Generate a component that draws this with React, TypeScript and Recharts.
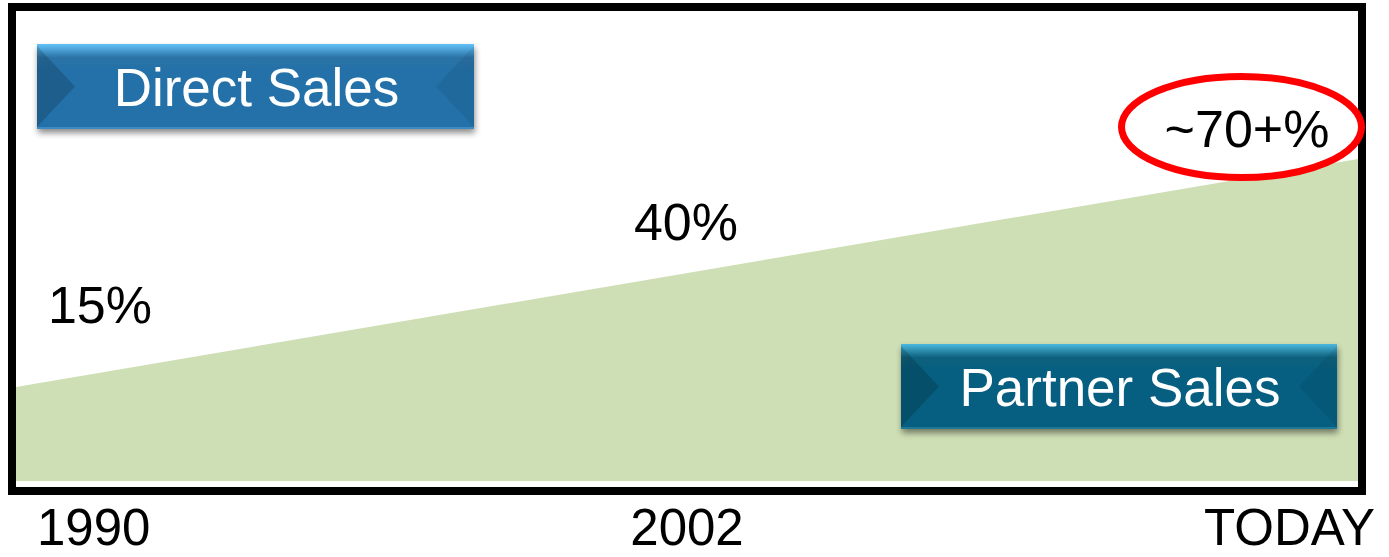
import { AreaChart, Area, XAxis, YAxis } from 'recharts'

// x positions: 0 = 1990, 1 = 2002, 2 = today
const categories = ['1990', '2002', 'TODAY']
const shareLabels = ['15%', '40%', '~70+%']
// green wedge: height of the partner area at the two ends (% of the box)
const areaX = [0, 2]
const areaY = [20, 68.5]

const data = areaX.map((x, i) => ({ x, partner: areaY[i] }))

const FONT = '"Liberation Sans", Arial, sans-serif'

function XTick(props: any) {
  const { x, y, payload } = props
  const i = payload.value as number
  const anchor = i === 0 ? 'start' : i === 2 ? 'end' : 'middle'
  const dx = i === 0 ? 21 : i === 2 ? 17 : 0
  return (
    <text x={x + dx} y={y + 64} textAnchor={anchor} fontSize={51} fontFamily={FONT} fill="#000">
      {categories[i]}
    </text>
  )
}

function BevelButton({ x, y, w, h, label, id, top, main, bottom }: any) {
  const b = 38
  return (
    <g>
      <defs>
        <linearGradient id={id} x1="0" y1="0" x2="0" y2="1">
          <stop offset="0%" stopColor={top} />
          <stop offset="16%" stopColor={main} stopOpacity={0.92} />
          <stop offset="30%" stopColor={main} />
          <stop offset="100%" stopColor={main} />
        </linearGradient>
      </defs>
      <rect x={x} y={y} width={w} height={h} fill="#000" opacity={0.45} filter="url(#btnShadow)" />
      <rect x={x} y={y} width={w} height={h} fill={`url(#${id})`} />
      <polygon points={`${x},${y + 2} ${x + b},${y + h / 2} ${x},${y + h - 2}`} fill="#000" opacity={0.16} />
      <polygon points={`${x + w},${y + 2} ${x + w - b},${y + h / 2} ${x + w},${y + h - 2}`} fill="#000" opacity={0.07} />
      <line x1={x} y1={y + h - 1} x2={x + w} y2={y + h - 1} stroke={bottom} strokeWidth={2} />
      <text x={x + w / 2 + 1} y={y + h / 2 + 19} textAnchor="middle" fontSize={53} fontFamily={FONT} fill="#fff">
        {label}
      </text>
    </g>
  )
}

function Overlay() {
  return (
    <svg width={1389} height={557} style={{ position: 'absolute', left: 0, top: 0, pointerEvents: 'none' }}>
      <defs>
        <filter id="btnShadow" x="-10%" y="-20%" width="120%" height="150%">
          <feGaussianBlur stdDeviation="3" />
          <feOffset dx="1" dy="4" />
        </filter>
      </defs>
      <rect x={12} y={7} width={1350} height={484} fill="none" stroke="#000" strokeWidth={8} />
      <BevelButton x={37} y={44} w={437} h={85} label="Direct Sales" id="gDirect"
        top="#62c2f8" main="#2371a8" bottom="#3c8cc2" />
      <BevelButton x={901} y={344} w={436} h={85} label="Partner Sales" id="gPartner"
        top="#4ab8de" main="#065f80" bottom="#1d7898" />
      <text x={100} y={323} textAnchor="middle" fontSize={52} fontFamily={FONT} fill="#000">{shareLabels[0]}</text>
      <text x={686} y={240} textAnchor="middle" fontSize={52} fontFamily={FONT} fill="#000">{shareLabels[1]}</text>
      <ellipse cx={1241.5} cy={127} rx={120} ry={50.5} fill="none" stroke="#ff0000" strokeWidth={7} />
      <text x={1247} y={147} textAnchor="middle" fontSize={52} fontFamily={FONT} fill="#000">{shareLabels[2]}</text>
    </svg>
  )
}

export default function App() {
  return (
    <div style={{ position: 'absolute', left: 0, top: 0, width: 1389, height: 557, background: '#fff' }}>
      <AreaChart width={1389} height={557} data={data} margin={{ top: 11, right: 31, bottom: 0, left: 16 }}>
        <XAxis
          dataKey="x"
          type="number"
          domain={[0, 2]}
          ticks={[0, 1, 2]}
          height={76}
          axisLine={false}
          tickLine={false}
          tickSize={0}
          tickMargin={0}
          tick={<XTick />}
          interval={0}
        />
        <YAxis hide domain={[0, 100]} />
        <Area
          type="linear"
          dataKey="partner"
          stroke="none"
          fill="#cfdfb5"
          fillOpacity={1}
          isAnimationActive={false}
        />
      </AreaChart>
      <Overlay />
    </div>
  )
}
